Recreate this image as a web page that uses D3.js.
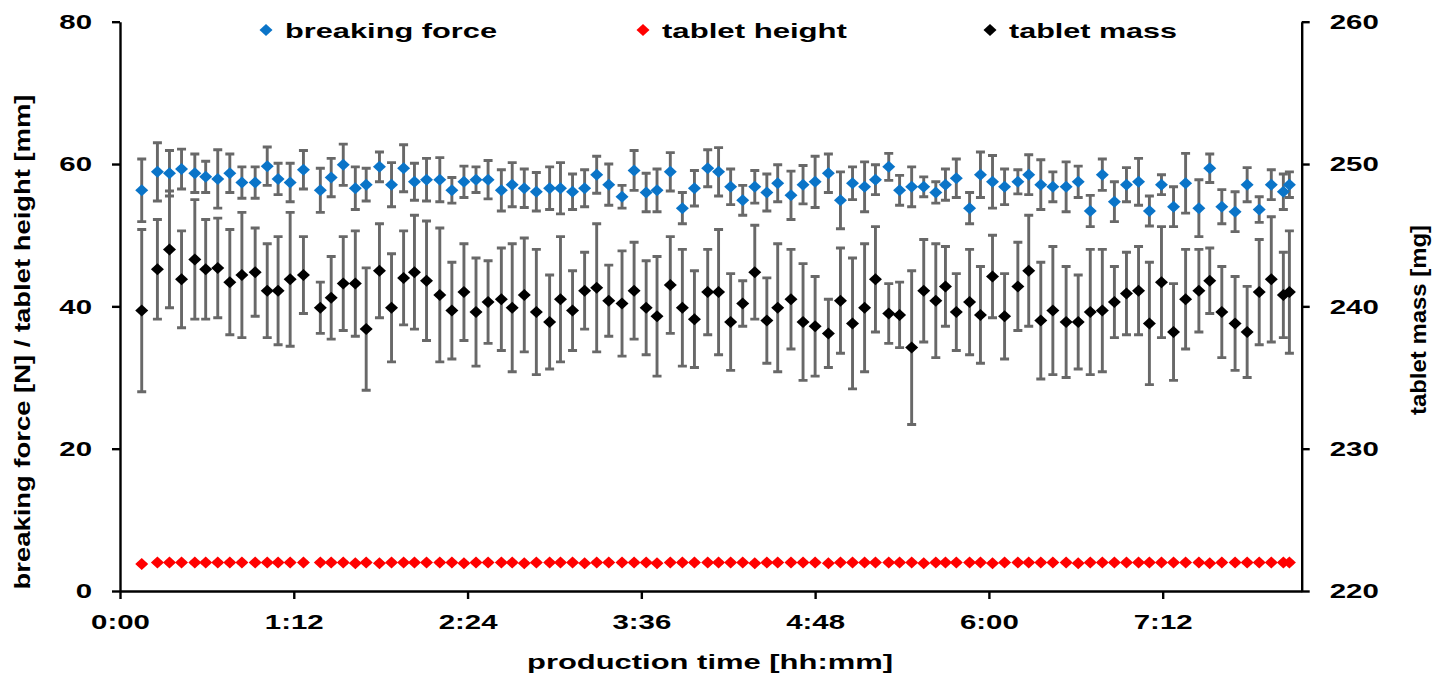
<!DOCTYPE html>
<html>
<head>
<meta charset="utf-8">
<script src="https://cdn.jsdelivr.net/npm/d3@7"></script>
<style>
  body { margin: 0; background: #fff; }
  svg { display: block; font-family: "Liberation Sans", Arial, sans-serif; font-weight: bold; }
</style>
</head>
<body>
<svg id="chart" width="1440" height="677"></svg>
<script>
// sampling time of each tablet sample, minutes after start
var minutes = [
  9, 15.5, 20.5, 25.5, 31, 35.5, 40.5, 45.5, 50.5, 56,
  61, 65.5, 70.5, 76, 83, 87.5, 92.5, 97.5, 102, 107.5,
  112.5, 117.5, 122, 127, 132.5, 137.5, 142.5, 147.5, 152.5, 158,
  162.5, 167.5, 172.5, 178, 182.5, 187.5, 192.5, 197.5, 202.5, 208,
  213, 218, 222.5, 228, 233, 238, 243.5, 248, 253, 258,
  263, 268, 272.5, 278, 283, 288, 293.5, 298.5, 303.5, 308.5,
  313, 318.5, 323, 328, 333, 338, 342, 346.5, 352, 356.5,
  361.5, 366.5, 372, 376.5, 381.5, 386.5, 392, 397, 402, 407,
  412, 417, 422, 426.5, 431.5, 436.5, 441.5, 447, 451.5, 456.5,
  462, 467, 472, 477, 482, 484.5
];

// breaking force [N], mean and standard deviation
var forceMean = [
  56.3, 58.9, 58.7, 59.3, 58.7, 58.2, 57.9, 58.7, 57.4, 57.4,
  59.7, 57.9, 57.4, 59.2, 56.3, 58.1, 59.9, 56.6, 57.1, 59.6,
  57.1, 59.4, 57.5, 57.8, 57.8, 56.3, 57.5, 57.8, 57.8, 56.3,
  57.1, 56.6, 56.1, 56.6, 56.6, 56.1, 56.6, 58.5, 57.1, 55.4,
  59.1, 56.0, 56.3, 58.9, 53.8, 56.6, 59.4, 58.9, 56.8, 54.9,
  56.8, 56.0, 57.3, 55.6, 57.1, 57.5, 58.7, 54.9, 57.3, 56.8,
  57.8, 59.6, 56.3, 56.8, 56.8, 56.0, 57.1, 58.0, 53.8, 58.5,
  57.5, 56.8, 57.5, 58.5, 57.1, 56.8, 56.8, 57.5, 53.4, 58.5,
  54.7, 57.1, 57.5, 53.4, 57.1, 54.0, 57.3, 53.8, 59.4, 54.0,
  53.3, 57.1, 53.6, 57.1, 56.1, 57.1
];
var forceSd = [
  4.4, 4.1, 3.2, 2.8, 2.7, 2.2, 4.1, 2.7, 2.2, 2.2,
  2.7, 2.2, 2.7, 2.7, 3.1, 2.7, 2.9, 3.0, 2.3, 2.1,
  3.1, 3.3, 2.6, 3.0, 3.1, 1.8, 2.2, 1.8, 2.7, 2.9,
  3.1, 2.7, 2.7, 3.0, 3.6, 2.5, 2.6, 2.6, 2.9, 1.6,
  2.8, 2.7, 3.0, 2.7, 2.2, 2.5, 2.6, 3.4, 2.5, 2.1,
  2.3, 2.6, 2.6, 3.4, 2.7, 3.6, 2.7, 4.0, 2.3, 3.5,
  2.1, 1.9, 2.1, 2.8, 1.4, 1.5, 2.2, 2.7, 2.2, 3.2,
  3.7, 2.5, 1.7, 2.8, 3.5, 2.1, 3.5, 2.2, 2.2, 2.2,
  2.8, 2.4, 3.3, 2.1, 1.4, 2.8, 4.2, 4.0, 2.0, 2.4,
  2.8, 2.4, 1.8, 2.1, 2.5, 1.8
];

// tablet height [mm]
var heightMean = [
  3.8, 4.0, 4.0, 4.0, 4.0, 4.0, 4.0, 4.0, 4.0, 4.0,
  4.0, 4.0, 4.0, 4.0, 4.0, 4.0, 4.0, 3.9, 4.0, 3.9,
  4.0, 4.0, 4.0, 4.0, 4.0, 4.0, 3.9, 4.0, 4.0, 4.0,
  4.0, 3.9, 4.0, 4.0, 4.0, 4.0, 3.9, 4.0, 4.0, 4.0,
  4.0, 4.0, 3.9, 4.0, 4.0, 4.0, 4.0, 4.0, 4.0, 4.0,
  3.9, 4.0, 4.0, 4.0, 4.0, 4.0, 3.9, 4.0, 4.0, 4.0,
  4.0, 4.0, 4.0, 4.0, 3.9, 4.0, 4.0, 4.0, 4.0, 4.0,
  3.9, 4.0, 4.0, 4.0, 4.0, 4.0, 4.0, 3.9, 4.0, 4.0,
  4.0, 4.0, 4.0, 4.0, 4.0, 4.0, 4.0, 4.0, 3.9, 4.0,
  4.0, 4.0, 4.0, 4.0, 4.0, 4.0
];
var heightSd = 0.05;

// tablet mass [mg], mean and standard deviation
var massMean = [
  239.7, 242.6, 244.0, 241.9, 243.3, 242.6, 242.7, 241.7, 242.2, 242.4,
  241.1, 241.1, 241.9, 242.2, 239.9, 240.6, 241.6, 241.6, 238.4, 242.5,
  239.9, 242.0, 242.4, 241.8, 240.8, 239.7, 241.0, 239.6, 240.3, 240.5,
  239.9, 240.8, 239.6, 238.9, 240.5, 239.7, 241.1, 241.3, 240.4, 240.2,
  241.1, 239.9, 239.3, 241.5, 239.9, 239.1, 241.0, 241.0, 238.9, 240.2,
  242.4, 239.0, 239.9, 240.5, 238.9, 238.6, 238.1, 240.4, 238.8, 239.9,
  241.9, 239.5, 239.4, 237.1, 241.1, 240.4, 241.4, 239.6, 240.3, 239.4,
  242.1, 239.3, 241.4, 242.5, 239.0, 239.7, 238.9, 238.9, 239.6, 239.7,
  240.3, 240.9, 241.1, 238.8, 241.7, 238.2, 240.5, 241.1, 241.8, 239.6,
  238.8, 238.2, 241.0, 241.9, 240.8, 241.0
];
var massSd = [
  5.7, 3.5, 4.1, 3.4, 4.2, 3.5, 3.5, 3.7, 4.4, 3.1,
  3.3, 3.8, 4.7, 2.7, 1.8, 2.9, 3.3, 3.7, 4.3, 3.3,
  3.8, 3.3, 4.0, 4.2, 4.7, 3.4, 3.4, 3.8, 2.9, 3.6,
  4.5, 4.0, 4.4, 3.3, 4.4, 2.8, 2.7, 4.5, 2.5, 3.7,
  3.4, 3.3, 4.2, 3.4, 4.1, 3.4, 3.0, 4.4, 3.4, 1.6,
  3.3, 3.0, 4.5, 3.5, 4.1, 3.5, 2.4, 3.7, 4.6, 4.5,
  3.7, 2.1, 2.3, 5.4, 3.6, 4.0, 2.8, 2.7, 3.7, 3.4,
  2.9, 3.0, 3.1, 3.9, 4.1, 4.5, 3.9, 3.3, 4.4, 4.3,
  2.5, 2.9, 3.1, 4.3, 3.9, 3.4, 3.5, 2.9, 2.3, 3.2,
  3.3, 3.2, 3.7, 4.4, 3.0, 4.3
];

var xTickMinutes = [0, 72, 144, 216, 288, 360, 432];
var xTickLabels = ["0:00", "1:12", "2:24", "3:36", "4:48", "6:00", "7:12"];
var leftTicks = [0, 20, 40, 60, 80];
var rightTicks = [220, 230, 240, 250, 260];
var seriesNames = ["breaking force", "tablet height", "tablet mass"];
var seriesColors = ["#0a74c8", "#ff0000", "#000000"];

var svg = d3.select("#chart");
var stretch = 1.4; // the source picture is wider than it is tall

var x = d3.scaleLinear().domain([0, 489.6]).range([120, 1301.7]);
var yL = d3.scaleLinear().domain([0, 80]).range([591, 21.7]);
var yR = d3.scaleLinear().domain([220, 260]).range([591, 21.7]);

function widen(sel) {
  sel.each(function() {
    var w = this.getComputedTextLength();
    d3.select(this).attr("textLength", w * stretch).attr("lengthAdjust", "spacingAndGlyphs");
  });
}

function styleAxis(g) {
  g.select(".domain").attr("stroke", "#000").attr("stroke-width", 2.4);
  g.selectAll(".tick line").attr("stroke", "#000").attr("stroke-width", 2.4);
  g.selectAll("text")
    .attr("font-family", "'Liberation Sans', Arial, sans-serif")
    .attr("font-size", 21)
    .attr("font-weight", "bold")
    .attr("fill", "#000");
}

// diamond marker shape, half-width w, half-height h
function diamond(w, h) {
  return "M0," + (-h) + "L" + w + ",0L0," + h + "L" + (-w) + ",0Z";
}

function drawSeries(means, sds, yScale, color, w, h) {
  var pts = means.map(function(m, i) {
    return { t: minutes[i], m: m, sd: Array.isArray(sds) ? sds[i] : sds };
  });
  var bars = svg.append("g")
    .attr("stroke", "#686868")
    .attr("stroke-width", 2.9)
    .attr("fill", "none");
  bars.selectAll("path")
    .data(pts)
    .enter()
    .append("path")
    .attr("d", function(d) {
      var cx = x(d.t), y1 = yScale(d.m + d.sd), y2 = yScale(d.m - d.sd), c = 4.5;
      return "M" + cx + "," + y1 + "V" + y2 +
        "M" + (cx - c) + "," + y1 + "H" + (cx + c) +
        "M" + (cx - c) + "," + y2 + "H" + (cx + c);
    });
  svg.append("g")
    .selectAll("path")
    .data(pts)
    .enter()
    .append("path")
    .attr("d", diamond(w, h))
    .attr("fill", color)
    .attr("transform", function(d) {
      return "translate(" + x(d.t) + "," + yScale(d.m) + ")";
    });
}

drawSeries(forceMean, forceSd, yL, seriesColors[0], 6.5, 6);
drawSeries(heightMean, heightSd, yL, seriesColors[1], 6.5, 6);
drawSeries(massMean, massSd, yR, seriesColors[2], 6.5, 6);

// axes
var gx = svg.append("g")
  .attr("transform", "translate(0,591)")
  .call(d3.axisBottom(x).tickValues(xTickMinutes)
    .tickFormat(function(d, i) { return xTickLabels[i]; })
    .tickSize(8).tickSizeOuter(0).tickPadding(15));
styleAxis(gx);

var gl = svg.append("g")
  .attr("transform", "translate(120,0)")
  .call(d3.axisLeft(yL).tickValues(leftTicks).tickSize(8).tickSizeOuter(0).tickPadding(20));
styleAxis(gl);

var gr = svg.append("g")
  .attr("transform", "translate(1301.7,0)")
  .call(d3.axisRight(yR).tickValues(rightTicks).tickSize(8).tickSizeOuter(0).tickPadding(20));
styleAxis(gr);

svg.selectAll(".tick text").call(widen);

// axis titles
svg.append("text")
  .attr("x", 710).attr("y", 669)
  .attr("text-anchor", "middle")
  .attr("font-size", 21)
  .attr("textLength", 366).attr("lengthAdjust", "spacingAndGlyphs")
  .text("production time [hh:mm]");

svg.append("text")
  .attr("transform", "translate(30,342) rotate(-90)")
  .attr("text-anchor", "middle")
  .attr("font-size", 22)
  .attr("textLength", 495).attr("lengthAdjust", "spacingAndGlyphs")
  .text("breaking force [N] / tablet height [mm]");

svg.append("text")
  .attr("transform", "translate(1426,320) rotate(-90)")
  .attr("text-anchor", "middle")
  .attr("font-size", 22)
  .attr("textLength", 190).attr("lengthAdjust", "spacingAndGlyphs")
  .text("tablet mass [mg]");

// legend
var legendX = [266, 643, 990];
var legendW = [212, 185, 168];
var legend = svg.append("g");
seriesNames.forEach(function(name, i) {
  legend.append("path")
    .attr("d", diamond(6.5, 6))
    .attr("fill", seriesColors[i])
    .attr("transform", "translate(" + legendX[i] + ",30)");
  legend.append("text")
    .attr("x", legendX[i] + 19).attr("y", 38)
    .attr("font-size", 21)
    .attr("textLength", legendW[i]).attr("lengthAdjust", "spacingAndGlyphs")
    .text(name);
});
</script>
</body>
</html>
